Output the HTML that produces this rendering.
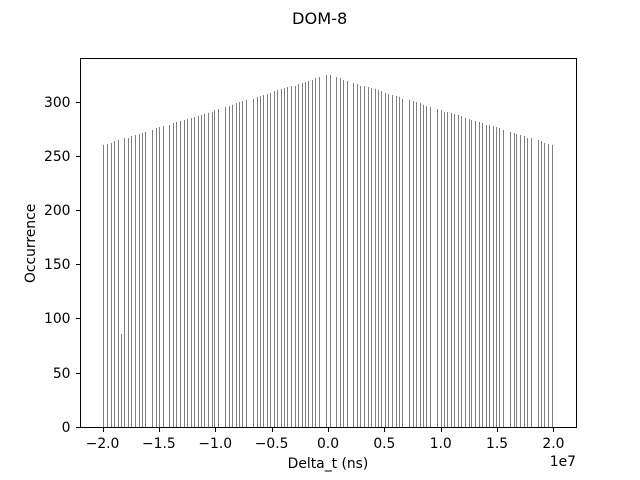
<!DOCTYPE html>
<html>
<head>
<meta charset="utf-8">
<title>DOM-8</title>
<style>
html,body{margin:0;padding:0;background:#fff;}
svg{display:block;}
text{font-family:"DejaVu Sans","Liberation Sans",sans-serif;fill:#000;}
</style>
</head>
<body>
<svg id="chart" width="640" height="480" viewBox="0 0 640 480" xmlns="http://www.w3.org/2000/svg">
  <rect x="0" y="0" width="640" height="480" fill="#ffffff"/>
  <g id="bars"></g>
  <rect x="80.5" y="58.5" width="496" height="369" fill="none" stroke="#000" stroke-width="1"/>
  <g id="xticks"></g>
  <g id="yticks"></g>
  <text x="319.7" y="24" font-size="16.2" text-anchor="middle">DOM-8</text>
  <text x="328" y="468" font-size="13.89" text-anchor="middle">Delta_t (ns)</text>
  <text x="35" y="243.4" font-size="13.89" text-anchor="middle" transform="rotate(-90 35 243.4)">Occurrence</text>
  <text x="576" y="466" font-size="13.89" text-anchor="end">1e7</text>
</svg>
<script>
// Delta_t values in units of 1e6 ns
const deltaT = [
-19.92,-19.56,-19.21,-18.94,-18.58,-18.32,-18.05,-17.70,-17.43,-17.08,-16.72,-16.46,-16.19,
-15.57,-15.21,-14.95,-14.59,-14.06,-13.71,-13.44,-13.08,-12.73,-12.46,-12.11,-11.84,-11.49,
-11.22,-10.96,-10.60,-10.25,-10.07,-9.71,-9.09,-8.74,-8.47,-8.12,-7.85,-7.58,-7.23,
-6.61,-6.25,-5.99,-5.72,-5.37,-5.10,-4.75,-4.48,-4.13,-3.86,-3.59,-3.24,-2.88,-2.62,-2.26,-2.00,-1.73,-1.38,-1.11,-0.75,-0.13,
0.22,0.75,1.11,1.38,1.73,
2.26,2.62,2.88,3.24,3.59,3.86,4.21,4.48,4.75,5.10,5.37,5.72,6.08,6.34,6.61,
7.23,7.58,7.85,8.21,8.47,8.74,9.09,
9.71,10.07,10.33,10.60,10.96,11.22,11.58,11.84,12.20,12.55,12.73,13.08,13.44,13.71,14.06,14.33,14.68,14.95,15.21,15.57,
16.19,16.54,16.72,17.08,17.43,17.70,18.05,
18.67,18.94,19.21,19.56,19.92
];
const occurrence = [
260,261,262,264,265,86,267,267,268,269,270,271,272,
274,276,277,278,279,280,281,282,283,284,285,286,287,
288,289,290,291,292,293,295,296,297,299,300,301,302,
303,304,305,306,307,308,310,311,312,313,314,315,315,316,317,318,319,320,322,323,325,
325,323,322,320,319,
317,316,315,315,314,313,312,311,310,308,307,306,305,304,303,
302,301,300,299,297,296,295,
293,292,291,291,290,289,288,287,285,284,283,282,281,280,279,279,278,277,276,274,
272,271,270,269,268,267,267,
265,264,262,261,260
];
const xTickValues = [-2.0,-1.5,-1.0,-0.5,0.0,0.5,1.0,1.5,2.0];
const xTickLabels = ["\u22122.0","\u22121.5","\u22121.0","\u22120.5","0.0","0.5","1.0","1.5","2.0"];
const yTickValues = [0,50,100,150,200,250,300];
const yTickLabels = ["0","50","100","150","200","250","300"];

const SVG_NS = "http://www.w3.org/2000/svg";
// deltaT axis: 1e6 ns to pixels
function xScale(v){ return 328 + v * 11.2727; }
// occurrence axis: count to pixels
function yScale(v){ return 427.2 - v * 1.0831; }

const barsGroup = document.getElementById("bars");
deltaT.forEach(function(v, i){
  const top = Math.floor(yScale(occurrence[i]));
  const bar = document.createElementNS(SVG_NS, "rect");
  
  
  bar.setAttribute("x", Math.floor(xScale(v)));
  bar.setAttribute("y", top);
  bar.setAttribute("width", 1);
  bar.setAttribute("height", 427 - top);
  bar.setAttribute("fill", "#7f7f7f");
  barsGroup.appendChild(bar);
});

const xGroup = document.getElementById("xticks");
xTickValues.forEach(function(v, i){
  const px = Math.round(xScale(v * 10)) + 0.5;
  const tick = document.createElementNS(SVG_NS, "line");
  
  
  tick.setAttribute("x1", px);
  tick.setAttribute("x2", px);
  tick.setAttribute("y1", 428);
  tick.setAttribute("y2", 432);
  tick.setAttribute("stroke", "#000");
  xGroup.appendChild(tick);
  const label = document.createElementNS(SVG_NS, "text");
  
  
  label.setAttribute("x", xScale(v * 10));
  label.setAttribute("y", 448);
  label.setAttribute("font-size", "13.89");
  label.setAttribute("text-anchor", "middle");
  label.textContent = xTickLabels[i];
  xGroup.appendChild(label);
});

const yGroup = document.getElementById("yticks");
yTickValues.forEach(function(v, i){
  const py = Math.floor(yScale(v)) + 0.5;
  const tick = document.createElementNS(SVG_NS, "line");
  
  
  tick.setAttribute("x1", 76);
  tick.setAttribute("x2", 80);
  tick.setAttribute("y1", py);
  tick.setAttribute("y2", py);
  tick.setAttribute("stroke", "#000");
  yGroup.appendChild(tick);
  const label = document.createElementNS(SVG_NS, "text");
  
  
  label.setAttribute("x", 70.5);
  label.setAttribute("y", py + 4.5);
  label.setAttribute("font-size", "13.89");
  label.setAttribute("text-anchor", "end");
  label.textContent = yTickLabels[i];
  yGroup.appendChild(label);
});
</script>
</body>
</html>
